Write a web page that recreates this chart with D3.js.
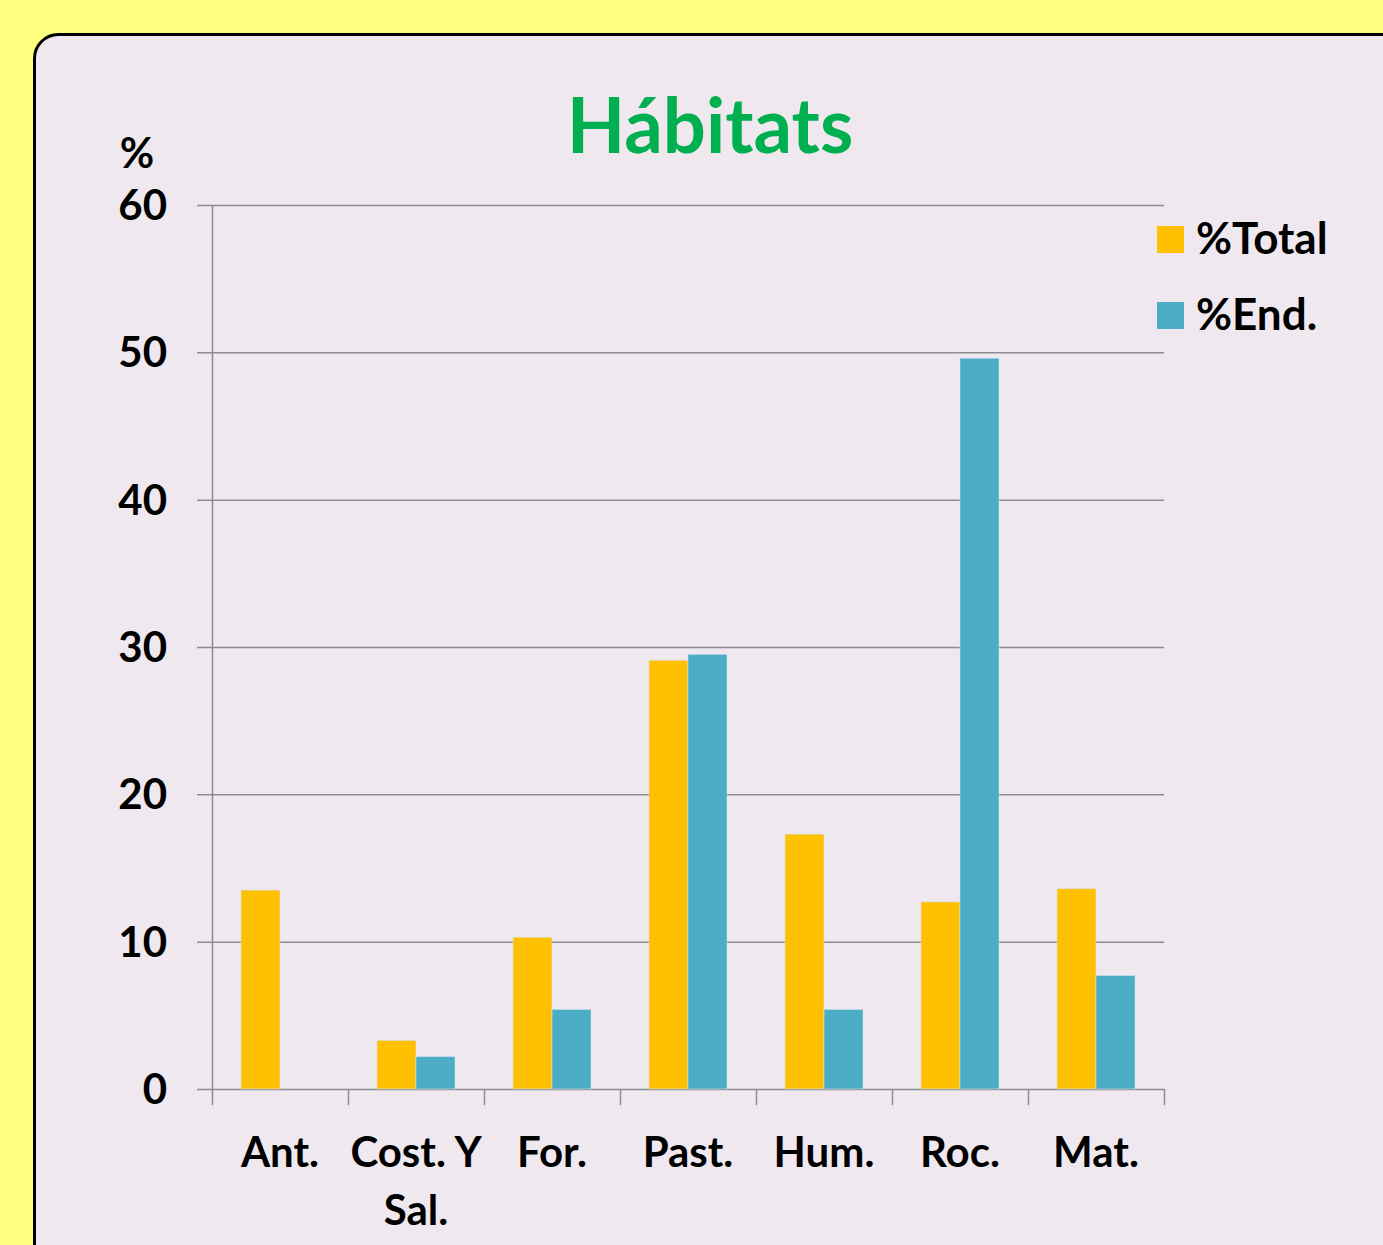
<!DOCTYPE html>
<html>
<head>
<meta charset="utf-8">
<script src="https://cdn.jsdelivr.net/npm/d3@7"></script>
<style>
  body { margin: 0; background: #ffff7f; }
  svg { display: block; }
</style>
</head>
<body>
<svg width="1383" height="1245"></svg>
<script>
var categories = ["Ant.", "Cost. Y Sal.", "For.", "Past.", "Hum.", "Roc.", "Mat."];
var seriesNames = ["%Total", "%End."];
var totalValues = [13.5, 3.3, 10.3, 29.1, 17.3, 12.7, 13.6];
var endValues = [0, 2.2, 5.4, 29.5, 5.4, 49.6, 7.7];
var yTicks = [0, 10, 20, 30, 40, 50, 60];
var colors = ["#ffc000", "#4bacc6"];

var svg = d3.select("svg"),
    font = "Lato, 'Open Sans', sans-serif";

// panel
svg.append("rect")
    .attr("x", 34.5).attr("y", 34.5)
    .attr("width", 1400).attr("height", 1300)
    .attr("rx", 24)
    .attr("fill", "#efe8ef")
    .attr("stroke", "#000").attr("stroke-width", 3);

var x0 = 212, x1 = 1164, yTop = 205, yBot = 1089;

var x = d3.scaleBand().domain(categories).range([x0, x1]).paddingInner(0).paddingOuter(0);
var xs = d3.scaleBand().domain(seriesNames).range([0, x.bandwidth()]).paddingInner(0).paddingOuter(0.744);
var y = d3.scaleLinear().domain([0, 60]).range([yBot, yTop]);

// gridlines
svg.append("g").selectAll("line")
    .data(yTicks)
    .enter().append("line")
    .attr("x1", 197).attr("x2", x1)
    .attr("y1", function(d) { return y(d) + 0.5; })
    .attr("y2", function(d) { return y(d) + 0.5; })
    .attr("stroke", "#8c8c8c").attr("stroke-width", 1.5);

// y axis line
svg.append("line")
    .attr("x1", x0 + 0.5).attr("x2", x0 + 0.5)
    .attr("y1", yTop).attr("y2", yBot + 16)
    .attr("stroke", "#8c8c8c").attr("stroke-width", 1.5);

// x ticks
svg.append("g").selectAll("line")
    .data(categories)
    .enter().append("line")
    .attr("x1", function(d) { return x(d) + x.step() + 0.5; })
    .attr("x2", function(d) { return x(d) + x.step() + 0.5; })
    .attr("y1", yBot).attr("y2", yBot + 16)
    .attr("stroke", "#8c8c8c").attr("stroke-width", 1.5);

// bars
var data = categories.map(function(c, i) {
  return { cat: c, vals: [totalValues[i], endValues[i]] };
});

var group = svg.append("g").selectAll("g")
    .data(data)
    .enter().append("g")
    .attr("transform", function(d) { return "translate(" + x(d.cat) + ",0)"; });

group.selectAll("rect")
    .data(function(d) { return d.vals.map(function(v, j) { return { name: seriesNames[j], v: v, j: j }; }); })
    .enter().append("rect")
    .filter(function(d) { return d.v > 0; })
    .attr("x", function(d) { return xs(d.name); })
    .attr("width", xs.bandwidth())
    .attr("y", function(d) { return y(d.v); })
    .attr("height", function(d) { return yBot - y(d.v); })
    .attr("fill", function(d) { return colors[d.j]; })
    .attr("stroke", "#d6e3ef").attr("stroke-width", 1).attr("stroke-opacity", 0.6);

// y labels
svg.append("g").selectAll("text")
    .data(yTicks)
    .enter().append("text")
    .attr("x", 167).attr("y", function(d) { return y(d) + 15; })
    .attr("text-anchor", "end")
    .attr("font-family", font).attr("font-weight", "bold").attr("font-size", 42)
    .attr("fill", "#000")
    .text(function(d) { return d; });

svg.append("text")
    .attr("x", 137).attr("y", 168)
    .attr("text-anchor", "middle")
    .attr("font-family", font).attr("font-weight", "bold").attr("font-size", 42)
    .text("%");

// x labels
var xl = svg.append("g").selectAll("text")
    .data(categories)
    .enter().append("text")
    .attr("text-anchor", "middle")
    .attr("font-family", font).attr("font-weight", "bold").attr("font-size", 42)
    .attr("fill", "#000");

xl.each(function(d) {
  var t = d3.select(this),
      cx = x(d) + x.bandwidth() / 2,
      lines = d === "Cost. Y Sal." ? ["Cost. Y", "Sal."] : [d];
  lines.forEach(function(l, k) {
    t.append("tspan").attr("x", cx).attr("y", 1167 + k * 58).text(l);
  });
});

// title
svg.append("text")
    .attr("x", 710).attr("y", 153)
    .attr("text-anchor", "middle")
    .attr("font-family", font).attr("font-weight", "bold").attr("font-size", 76)
    .attr("fill", "#00b050")
    .text("Hábitats");

// legend
var leg = svg.append("g").selectAll("g")
    .data(seriesNames)
    .enter().append("g")
    .attr("transform", function(d, i) { return "translate(1157," + (226 + i * 76) + ")"; });

leg.append("rect")
    .attr("width", 27).attr("height", 27)
    .attr("fill", function(d, i) { return colors[i]; });

leg.append("text")
    .attr("x", 39).attr("y", 28)
    .attr("font-family", font).attr("font-weight", "bold").attr("font-size", 44)
    .text(function(d) { return d; });
</script>
</body>
</html>
